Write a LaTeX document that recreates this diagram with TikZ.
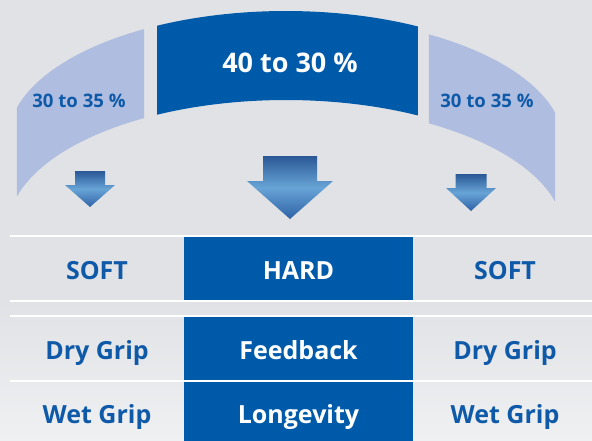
\documentclass[tikz,border=0pt]{standalone}
\usepackage{fontspec}
\setmainfont{Open Sans}
\definecolor{bg}{HTML}{E1E2E5}
\definecolor{bglight}{HTML}{EFF0F2}
\definecolor{bandlight}{HTML}{AFBDE0}
\definecolor{navy}{HTML}{005AAA}
\definecolor{txtblue}{HTML}{0F5AA8}
\definecolor{arrtop}{HTML}{2A5896}
\definecolor{arrmid}{HTML}{68A4D6}
\definecolor{arrbot}{HTML}{2E62A6}

\begin{document}
\begin{tikzpicture}[x=0.5pt,y=-0.5pt,
    pct/.style={font=\fontsize{9.3}{11}\selectfont\bfseries, text=txtblue, anchor=base, inner sep=0pt},
    bigpct/.style={font=\fontsize{13.5}{16}\selectfont\bfseries, text=white, anchor=base, inner sep=0pt},
    cell/.style={font=\fontsize{12.5}{15}\selectfont\bfseries, text=txtblue, inner sep=0pt,
        text height=11.3pt, text depth=0pt, minimum height=31.5pt},
    hard/.style={cell, fill=navy, text=white, minimum width=114.5pt},
    arrow/.style={top color=arrtop, bottom color=arrbot, middle color=arrmid},
    sep/.style={white, line width=0.9pt}]
    \clip (0,0) rectangle (592,440);
    \fill[bg] (0,0) rectangle (592,440);
    \shade[top color=bg, bottom color=bglight] (0,300) rectangle (592,440);

    % percentage bands
    \fill[bandlight] plot[domain=-165.4:-120.7, samples=40] ({286+278*cos(\x)},{140+129*sin(\x)})
        -- plot[domain=-120.7:-165.4, samples=40] ({286+278*cos(\x)},{229+129*sin(\x)}) -- cycle;
    \fill[navy] plot[domain=-117.6:-61.7, samples=40] ({286+278*cos(\x)},{140+129*sin(\x)})
        -- plot[domain=-61.7:-117.6, samples=40] ({286+278*cos(\x)},{229+129*sin(\x)}) -- cycle;
    \fill[bandlight] plot[domain=-59.1:-14.6, samples=40] ({286+278*cos(\x)},{145+129*sin(\x)})
        -- plot[domain=-14.6:-59.1, samples=40] ({286+278*cos(\x)},{234+129*sin(\x)}) -- cycle;
    \node[pct] (lpct) at (79,107) {30 to 35 \%};
    \node[bigpct] (cpct) at (290,72) {40 to 30 \%};
    \node[pct] (rpct) at (487,107) {30 to 35 \%};

    % arrows
    \foreach \cx/\ty/\sw/\hw/\hy/\tip in {90/171/15/25/185/207, 290/156/27/43/181/219, 471/174/15.5/25/188/211}
        \shade[arrow] (\cx-\sw,\ty) -- (\cx+\sw,\ty) -- (\cx+\sw,\hy) -- (\cx+\hw,\hy)
            -- (\cx,\tip) -- (\cx-\hw,\hy) -- (\cx-\sw,\hy) -- cycle;

    % table
    \node[cell] (s1) at (97,268.5) {SOFT};
    \node[hard] (h) at (298.5,268.5) {HARD};
    \node[cell] (s2) at (505,268.5) {SOFT};
    \node[cell] (d1) at (97,348.5) {Dry Grip};
    \node[hard] (f) at (298.5,348.5) {Feedback};
    \node[cell] (d2) at (505,348.5) {Dry Grip};
    \node[cell, minimum height=30pt] (w1) at (97,412) {Wet Grip};
    \node[hard, minimum height=30pt] (l) at (298.5,412) {Longevity};
    \node[cell, minimum height=30pt] (w2) at (505,412) {Wet Grip};
    \foreach \y in {236,301,316,381}
        \draw[sep] (10,\y) -- (592,\y);
\end{tikzpicture}
\end{document}
